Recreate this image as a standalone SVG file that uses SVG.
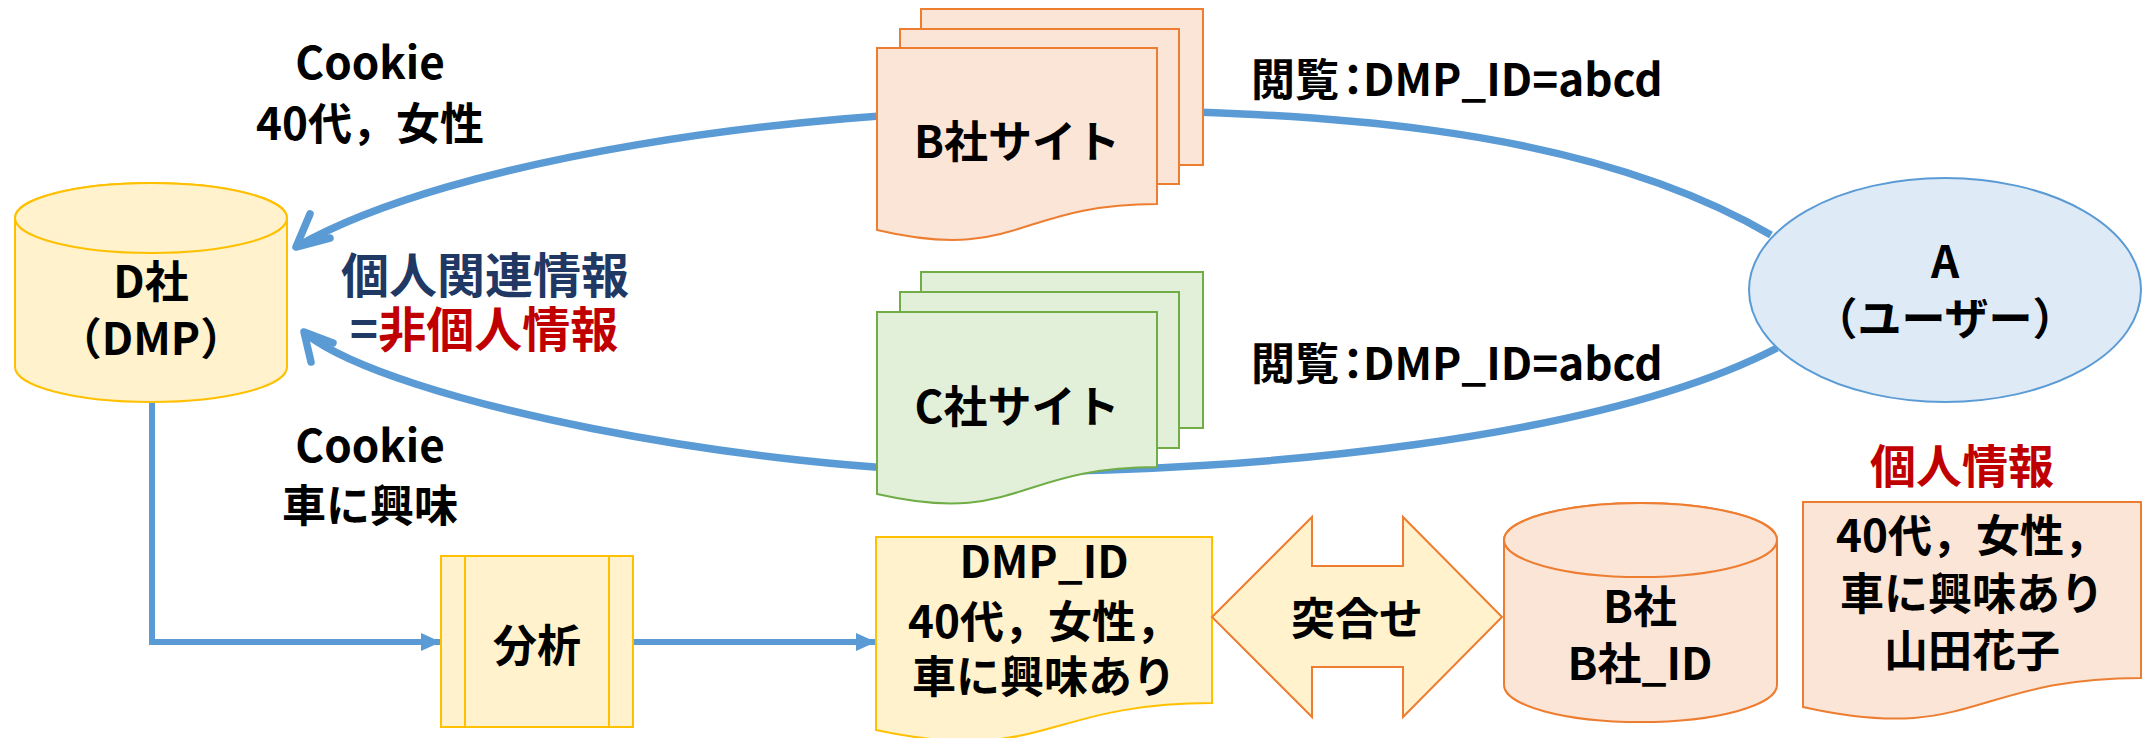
<svg xmlns="http://www.w3.org/2000/svg" width="2143" height="738" viewBox="0 0 2143 738">
<defs>
<style>
.t{font-family:"Noto Sans CJK JP","Noto Sans",sans-serif;font-weight:700;font-size:44px;fill:#000;text-anchor:middle}
.ts{text-anchor:start}
.big{font-size:48px}
.mid{font-size:46px}
.or{fill:#FBE5D6;stroke:#ED7D31;stroke-width:2}
.gr{fill:#E2F0D9;stroke:#70AD47;stroke-width:2}
.ye{fill:#FFF2CC;stroke:#FFC000;stroke-width:2}
.yo{fill:#FFF2CC;stroke:#ED7D31;stroke-width:2}
.bl{fill:#DEEBF7;stroke:#5B9BD5;stroke-width:2}
.cv{fill:none;stroke:#5B9BD5;stroke-width:7.5}
.hd{fill:none;stroke:#5B9BD5;stroke-width:7.5;stroke-linecap:round;stroke-linejoin:round}
.st{fill:none;stroke:#5B9BD5;stroke-width:6}
.navy{fill:#1F3864}
.red{fill:#C00000}
</style>
<marker id="tri" markerUnits="userSpaceOnUse" markerWidth="22" markerHeight="20" refX="20" refY="9" orient="auto">
<path d="M0,0 L20,9 L0,18 Z" fill="#5B9BD5"/>
</marker>
</defs>
<rect width="2143" height="738" fill="#fff"/>

<g id="connectors">
<path class="cv" d="M1771,235 C1578,122 1300,110 1040,110 C800,110 455,157 298,246"/>
<path class="hd" d="M310,214 L296,247 L330,238"/>
<path class="cv" d="M1777,348 C1600,440 1250,472 1000,472 C750,472 394,402 306,334"/>
<path class="hd" d="M311,362 L304,332 L333,343"/>
<path class="st" d="M152,402 V642 H441" marker-end="url(#tri)"/>
<path class="st" d="M633,642 H876" marker-end="url(#tri)"/>
</g>

<g id="label-cookie1">
<text class="t" x="370" y="79">Cookie</text>
<text class="t" x="370" y="140">40代，女性</text>
</g>
<g id="label-cookie2">
<text class="t" x="370" y="462">Cookie</text>
<text class="t" x="370" y="522">車に興味</text>
</g>
<g id="label-view1">
<text class="t ts" x="1251" y="96">閲覧<tspan dx="-8">：</tspan><tspan dx="-12">DMP_ID=abcd</tspan></text>
</g>
<g id="label-view2">
<text class="t ts" x="1251" y="380">閲覧<tspan dx="-8">：</tspan><tspan dx="-12">DMP_ID=abcd</tspan></text>
</g>
<g id="label-related">
<text class="t navy big" x="485" y="293">個人関連情報</text>
<text class="t big" x="484" y="347"><tspan class="navy">=</tspan><tspan class="red">非個人情報</tspan></text>
</g>

<g id="node-bsite">
<rect class="or" x="921" y="9" width="282" height="156"/>
<rect class="or" x="900" y="29" width="279" height="155"/>
<path class="or" d="M877,48 H1157 V204 C1017,204 1017,263 877,230 Z"/>
<text class="t" x="1017" y="158">B社サイト</text>
</g>

<g id="node-csite">
<rect class="gr" x="921" y="272" width="282" height="156"/>
<rect class="gr" x="900" y="292" width="279" height="156"/>
<path class="gr" d="M877,312 H1157 V467 C1017,467 1017,526 877,494 Z"/>
<text class="t" x="1017" y="423">C社サイト</text>
</g>

<g id="node-dmp">
<path class="ye" d="M15,218 A136,35 0 0,1 287,218 V367 A136,35 0 0,1 15,367 Z"/>
<ellipse class="ye" cx="151" cy="218" rx="136" ry="35"/>
<text class="t" x="151" y="298">D社</text>
<text class="t" x="151" y="355">（DMP）</text>
</g>

<g id="node-user">
<ellipse class="bl" cx="1945" cy="290" rx="196" ry="112"/>
<text class="t" x="1945" y="278">A</text>
<text class="t" x="1945" y="335">（ユーザー）</text>
</g>

<g id="node-analysis">
<rect class="ye" x="441" y="556" width="192" height="171"/>
<line class="ye" x1="465" y1="556" x2="465" y2="727"/>
<line class="ye" x1="609" y1="556" x2="609" y2="727"/>
<text class="t" x="537" y="662">分析</text>
</g>

<g id="node-dmpid">
<path class="ye" d="M876,537 H1212 V703 C1044,703 1044,766 876,730 Z"/>
<text class="t" x="1044" y="578">DMP_ID</text>
<text class="t" x="1044" y="638">40代，女性，</text>
<text class="t" x="1044" y="693">車に興味あり</text>
</g>

<g id="node-match">
<path class="yo" d="M1212,617 L1312,517 V566 H1403 V517 L1502,617 L1403,717 V667 H1312 V717 Z"/>
<text class="t" x="1357" y="635">突合せ</text>
</g>

<g id="node-bdb">
<path class="or" d="M1504,540 A136.5,37 0 0,1 1777,540 V685 A136.5,37 0 0,1 1504,685 Z"/>
<ellipse class="or" cx="1640.5" cy="540" rx="136.5" ry="37"/>
<text class="t" x="1640" y="623">B社</text>
<text class="t" x="1640" y="680">B社_ID</text>
</g>

<g id="label-personal">
<text class="t red mid" x="1962" y="483">個人情報</text>
</g>

<g id="node-personal">
<path class="or" d="M1803,502 H2141 V678 C1972,678 1972,745 1803,707 Z"/>
<text class="t" x="1972" y="552">40代，女性，</text>
<text class="t" x="1972" y="610">車に興味あり</text>
<text class="t" x="1972" y="667">山田花子</text>
</g>
</svg>
